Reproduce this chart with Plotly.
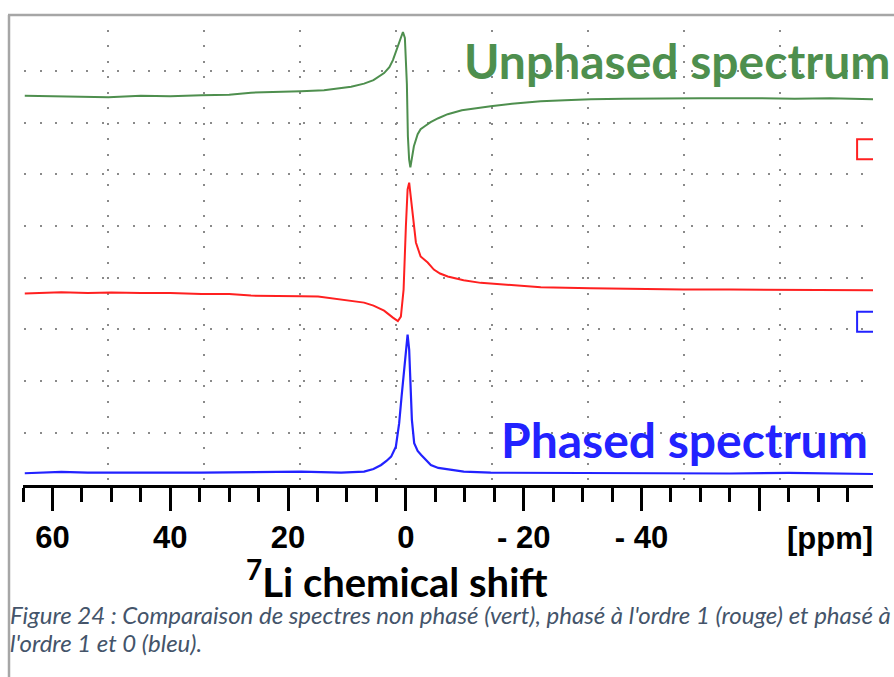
import plotly.graph_objects as go

# ---------------- data ----------------
green_ppm = [64.7, 58, 50.5, 45, 40, 34.7, 30, 26.3, 22, 17.8, 13.9, 11.0, 9.3, 7.1, 5.5, 3.7, 2.8, 2.2,
             1.36, 0.8, 0.5, 0.17, -0.17, -0.34, -0.55, -0.76, -1.0, -1.36, -2.0, -2.5, -3.2, -4.2, -5.5,
             -7.1, -9.5, -12.7, -14.4, -18, -22.9, -27, -31.4, -37, -42.7, -50, -59.7, -66, -72, -79.3]
green_val = [388.5, 388, 387, 388.5, 388, 389, 389.5, 391.5, 392, 393, 394, 396, 397.5, 400.5, 404, 411, 417, 424,
             438, 449, 452, 446, 400, 348, 325, 317, 325, 338, 350, 355, 358, 362, 366,
             370, 374, 377, 378, 380.5, 383, 384, 385, 385.5, 386, 386, 386, 385.5, 386, 385]

red_ppm = [64.7, 58.5, 54, 50, 45, 40, 34.7, 30, 26.3, 22, 17.8, 14.9, 11.0, 9.0, 7.1, 5.5, 3.7, 2.2, 1.36,
           0.85, 0.39, 0.0, -0.29, -0.56, -0.85, -1.3, -1.7, -2.5, -3.7, -4.75, -5.8, -7.1, -9.8, -12.7,
           -14.4, -18, -22.9, -31.4, -40, -47.1, -55, -63.6, -70, -79.3]
red_val = [191, 192.3, 191.5, 192, 191.5, 191.5, 190.7, 190.5, 189, 189, 188.3, 188, 185, 183.5, 182, 179, 174, 167, 163.5,
           168, 195, 258, 295, 301.7, 288, 262, 242, 228, 222, 215, 211, 208, 204.3, 201.7,
           201, 199, 197.3, 196.3, 195.5, 195, 195, 194.3, 194.5, 194.3]

blue_ppm = [64.7, 58.5, 54, 50, 40, 34.7, 25, 17.8, 11.0, 7.1, 5.5, 4.2, 3.3, 2.5, 1.7, 1.14, 0.73, 0.29, 0.0,
            -0.29, -0.56, -0.73, -1.02, -1.41, -2.0, -2.6, -3.3, -4.24, -5.5, -7.07, -9.83, -14.4, -25, -40, -55, -65, -79.3]
blue_val = [11.7, 13, 12.3, 12.5, 12.3, 12.3, 12.5, 13.3, 12.3, 13.3, 16, 20, 24, 28.3, 38.3, 61.7, 88.3, 115, 135,
            150, 135, 108.3, 65, 41.7, 34, 30, 26, 20, 17, 15.7, 13.3, 12.3, 12, 12, 11.5, 12, 11]

major_ticks = [60, 40, 20, 0, -20, -40, -60]
major_labels = ["60", "40", "20", "0", "- 20", "- 40", ""]
minor_ticks = [65, 55, 50, 45, 35, 30, 25, 15, 10, 5, -5, -10, -15, -25, -30, -35, -45, -50, -55, -65, -70, -75]

x_range = [65, -79.3]
y_range = [0, 464]
vgrid_start, vgrid_step = 50.57, 16.297
hgrid_start, hgrid_step = 52, 51.6

GREEN = "#4E8F4E"
RED = "#FF2020"
BLUE = "#2222FF"
GRIDC = "#8a8a8a"

fig = go.Figure()
fig.add_trace(go.Scatter(x=green_ppm, y=green_val, mode="lines", line=dict(color=GREEN, width=2),
                         hoverinfo="skip", showlegend=False))
fig.add_trace(go.Scatter(x=red_ppm, y=red_val, mode="lines", line=dict(color=RED, width=2),
                         hoverinfo="skip", showlegend=False))
fig.add_trace(go.Scatter(x=blue_ppm, y=blue_val, mode="lines", line=dict(color=BLUE, width=2.2),
                         hoverinfo="skip", showlegend=False))
# invisible trace to create the grid-only overlay axis
fig.add_trace(go.Scatter(x=[0], y=[0], xaxis="x2", mode="lines", hoverinfo="skip", showlegend=False))

W, H = 894, 677
L, R, T, B = 23, 21, 20, 192
PW, PH = W - L - R, H - T - B


def px(xp):
    return (xp - L) / PW


def py(yp):
    return (H - B - yp) / PH


tick_font = dict(family="Liberation Sans, Arial, sans-serif",
                 size=31, color="black", weight="bold")

fig.update_layout(
    width=W, height=H, autosize=False,
    margin=dict(l=L, r=R, t=T, b=B, pad=0),
    paper_bgcolor="white", plot_bgcolor="white",
    xaxis=dict(range=x_range, showgrid=False, zeroline=False,
               showline=True, linecolor="black", linewidth=3,
               tickmode="array", tickvals=major_ticks, ticktext=major_labels,
               ticks="outside", ticklen=23, tickwidth=3, tickcolor="black",
               tickfont=tick_font,
               minor=dict(tickmode="array", tickvals=minor_ticks, ticks="outside",
                          ticklen=14, tickwidth=3, tickcolor="black", showgrid=False)),
    xaxis2=dict(range=x_range, overlaying="x", anchor="y", showgrid=True, gridcolor=GRIDC,
                gridwidth=2, griddash="0px,10px,2px,3.45px", zeroline=False, showline=False,
                tickmode="linear", tick0=vgrid_start, dtick=vgrid_step,
                showticklabels=False, ticks=""),
    yaxis=dict(range=y_range, showgrid=True, gridcolor=GRIDC, gridwidth=2,
               griddash="0px,1px,2px,12.5px", zeroline=False, showline=False,
               tickmode="linear", tick0=hgrid_start, dtick=hgrid_step,
               showticklabels=False, ticks=""),
    shapes=[
        dict(type="line", xref="paper", yref="paper", x0=px(8), x1=px(894), y0=py(15), y1=py(15),
             line=dict(color="#A6A6A6", width=2.5)),
        dict(type="line", xref="paper", yref="paper", x0=px(9), x1=px(9), y0=py(15), y1=py(677),
             line=dict(color="#A6A6A6", width=2.5)),
        dict(type="path", xref="x", yref="y", path="M -79.3,345 L -76.6,345 L -76.6,325 L -79.3,325",
             line=dict(color=RED, width=2)),
        dict(type="path", xref="x", yref="y", path="M -79.3,173 L -76.6,173 L -76.6,153 L -79.3,153",
             line=dict(color=BLUE, width=2)),
    ],
    annotations=[
        dict(text="Unphased spectrum", xref="paper", yref="paper", x=px(892), y=py(61),
             xanchor="right", yanchor="middle", showarrow=False,
             font=dict(family="Lato", size=48, color=GREEN, weight="bold")),
        dict(text="Phased spectrum", xref="paper", yref="paper", x=px(870), y=py(439),
             xanchor="right", yanchor="middle", showarrow=False,
             font=dict(family="Lato", size=48, color=BLUE, weight="bold")),
        dict(text="[ppm]", xref="paper", yref="paper", x=px(830), y=py(538),
             xanchor="center", yanchor="middle", showarrow=False, font=tick_font),
        dict(text="<sup>7</sup>Li chemical shift", xref="paper", yref="paper", x=px(397), y=py(579),
             xanchor="center", yanchor="middle", showarrow=False,
             font=dict(family="Lato", size=40, color="black", weight="bold")),
        dict(text="Figure 24 : Comparaison de spectres non phasé (vert), phasé à l'ordre 1 (rouge) et phasé à",
             xref="paper", yref="paper", x=px(8), y=py(614), xanchor="left", yanchor="middle",
             showarrow=False, font=dict(family="Lato", size=24, color="#44546A", style="italic")),
        dict(text="l'ordre 1 et 0 (bleu).",
             xref="paper", yref="paper", x=px(8), y=py(642), xanchor="left", yanchor="middle",
             showarrow=False, font=dict(family="Lato", size=24, color="#44546A", style="italic")),
    ],
)

fig.write_html("out.html", config={"displayModeBar": False},
               post_script="document.body.style.margin='0';")
